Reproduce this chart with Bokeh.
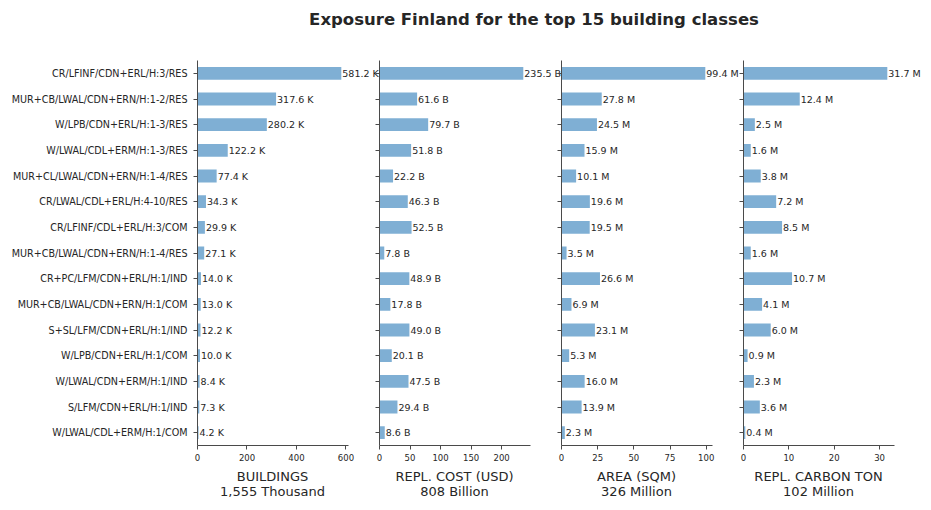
from bokeh.plotting import figure
from bokeh.layouts import row, column
from bokeh.models import (Range1d, FactorRange, FixedTicker, LabelSet, Div,
                          ColumnDataSource, CustomJSTickFormatter)
from bokeh.core.properties import value
from bokeh.embed import file_html
from bokeh.resources import INLINE

categories = [
    "CR/LFINF/CDN+ERL/H:3/RES",
    "MUR+CB/LWAL/CDN+ERN/H:1-2/RES",
    "W/LPB/CDN+ERL/H:1-3/RES",
    "W/LWAL/CDL+ERM/H:1-3/RES",
    "MUR+CL/LWAL/CDN+ERN/H:1-4/RES",
    "CR/LWAL/CDL+ERL/H:4-10/RES",
    "CR/LFINF/CDL+ERL/H:3/COM",
    "MUR+CB/LWAL/CDN+ERN/H:1-4/RES",
    "CR+PC/LFM/CDN+ERL/H:1/IND",
    "MUR+CB/LWAL/CDN+ERN/H:1/COM",
    "S+SL/LFM/CDN+ERL/H:1/IND",
    "W/LPB/CDN+ERL/H:1/COM",
    "W/LWAL/CDN+ERM/H:1/IND",
    "S/LFM/CDN+ERL/H:1/IND",
    "W/LWAL/CDL+ERM/H:1/COM",
]
buildings_thousand = [581.2, 317.6, 280.2, 122.2, 77.4, 34.3, 29.9, 27.1, 14.0, 13.0, 12.2, 10.0, 8.4, 7.3, 4.2]
repl_cost_billion = [235.5, 61.6, 79.7, 51.8, 22.2, 46.3, 52.5, 7.8, 48.9, 17.8, 49.0, 20.1, 47.5, 29.4, 8.6]
area_million = [99.4, 27.8, 24.5, 15.9, 10.1, 19.6, 19.5, 3.5, 26.6, 6.9, 23.1, 5.3, 16.0, 13.9, 2.3]
carbon_million = [31.7, 12.4, 2.5, 1.6, 3.8, 7.2, 8.5, 1.6, 10.7, 4.1, 6.0, 0.9, 2.3, 3.6, 0.4]

series = [buildings_thousand, repl_cost_billion, area_million, carbon_million]
unit_suffix = ["K", "B", "M", "M"]
axis_titles = [
    ("BUILDINGS", "1,555 Thousand"),
    ("REPL. COST (USD)", "808 Billion"),
    ("AREA (SQM)", "326 Million"),
    ("REPL. CARBON TON", "102 Million"),
]
x_ticks = [[0, 200, 400, 600], [0, 50, 100, 150, 200], [0, 25, 50, 75, 100], [0, 10, 20, 30]]
title_text = "Exposure Finland for the top 15 building classes"

FONT = "DejaVu Sans"
TXT = "#262626"
AX = "#4a4a4a"
BAR = "#7fafd4"

AXIS_PX = 151                       # drawn length of each x axis
PITCH = 182                         # distance between panel starts
left_b = [197, 5, 5, 5]
frame_w = [189, 190, 182, 188]      # frames reach past the axis end so labels are not clipped
occupied = [374, PITCH, PITCH, 193]

factors = list(reversed(categories))

figs = []
axis_left = []
x0 = 0
for i, vals in enumerate(series):
    src = ColumnDataSource(dict(
        cat=categories, val=vals,
        lab=[f"{v:.1f} {unit_suffix[i]}" for v in vals],
    ))
    w = left_b[i] + frame_w[i]
    axis_end = max(vals) * 1.05
    fill = "white" if i == 0 else None
    p = figure(
        width=w, height=429,
        y_range=FactorRange(factors=factors, range_padding=0),
        x_range=Range1d(0, axis_end * frame_w[i] / AXIS_PX),
        output_backend="svg", toolbar_location=None,
        min_border_left=left_b[i], min_border_right=0,
        min_border_top=20, min_border_bottom=24,
        background_fill_color=fill, border_fill_color=fill,
        margin=(0, occupied[i] - w, 0, 0),
    )
    axis_left.append(x0 + left_b[i])
    x0 += occupied[i]
    p.outline_line_color = None
    p.grid.visible = False
    p.hbar(y="cat", right="val", left=0, height=0.5, source=src,
           fill_color=BAR, line_color=None)
    p.add_layout(LabelSet(x="val", y="cat", text="lab", source=src, x_offset=1,
                          text_baseline="middle", text_align="left",
                          text_font=value(FONT), text_font_size="9.5px",
                          text_color=TXT))

    xa = p.xaxis[0]
    xa.bounds = (0, axis_end)
    xa.ticker = FixedTicker(ticks=x_ticks[i])
    xa.minor_tick_line_color = None
    xa.major_tick_in = 0
    xa.major_tick_out = 4
    xa.major_label_text_font = FONT
    xa.major_label_text_font_size = "8.5px"
    xa.major_label_text_color = TXT
    xa.axis_line_color = AX
    xa.major_tick_line_color = AX
    xa.major_label_standoff = 4

    ya = p.yaxis[0]
    ya.major_tick_in = 0
    ya.major_tick_out = 4
    ya.axis_line_color = AX
    ya.major_tick_line_color = AX
    ya.minor_tick_line_color = None
    ya.major_label_text_font = FONT
    ya.major_label_text_color = TXT
    ya.major_label_text_font_size = "9.6px"
    ya.major_label_standoff = 6
    if i > 0:
        ya.formatter = CustomJSTickFormatter(code="return ''")
        ya.major_label_standoff = 0
    figs.append(p)

title = Div(
    text=(f'<div style="margin-left:137px;width:794px;text-align:center;'
          f'font-family:\'{FONT}\';font-weight:bold;font-size:16.5px;color:{TXT};'
          f'padding-top:8px;white-space:nowrap;">{title_text}</div>'),
    width=931, height=40, margin=0,
)

parts = []
for (l1, l2), ax0 in zip(axis_titles, axis_left):
    cx = ax0 + AXIS_PX / 2
    parts.append(
        f'<div style="position:absolute;left:{cx - 100:.1f}px;top:0px;width:200px;'
        f'text-align:center;font-family:\'{FONT}\';font-size:13px;line-height:15px;'
        f'color:{TXT};white-space:nowrap;">{l1}<br>{l2}</div>'
    )
xlabels = Div(
    text=('<div style="position:relative;width:931px;height:41px;">'
          + "".join(parts) + '</div>'),
    width=931, height=41, margin=0,
)

layout = column(title, row(*figs, spacing=0), xlabels, spacing=0)
open("out.html", "w").write(file_html(layout, INLINE))
